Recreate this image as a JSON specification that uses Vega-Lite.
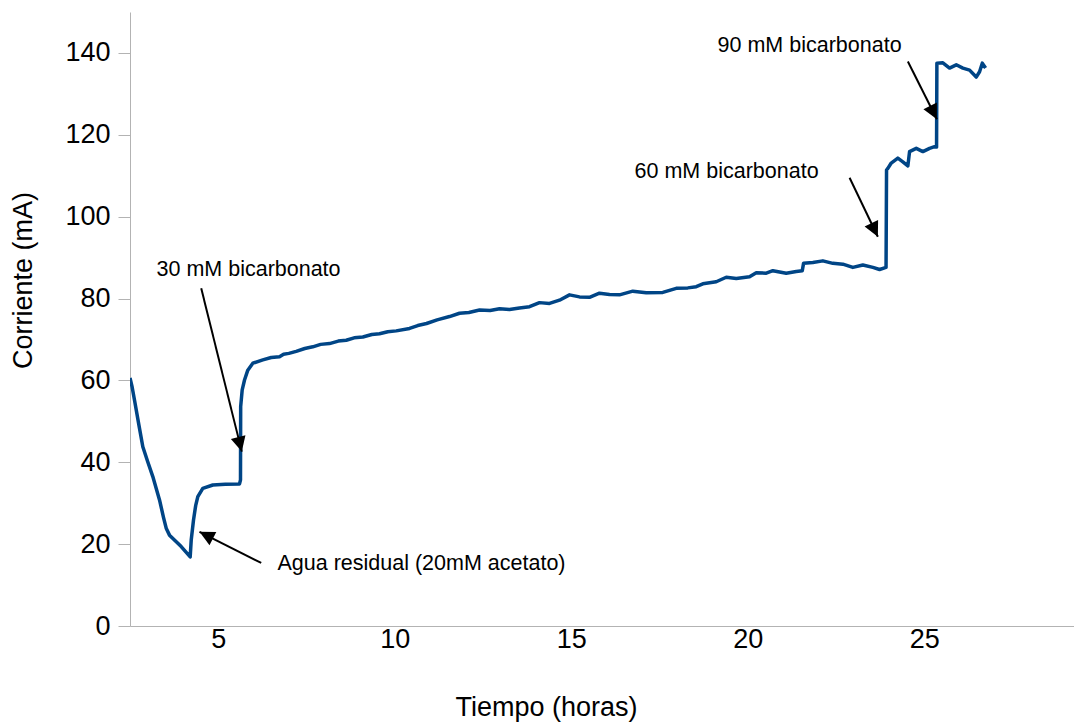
{
  "$schema": "https://vega.github.io/schema/vega-lite/v6.json",
  "autosize": {"type": "none"},
  "width": 944,
  "height": 614,
  "padding": {"left": 130, "top": 12, "right": 0, "bottom": 99},
  "config": {
    "view": {"stroke": null},
    "font": "Liberation Sans",
    "axis": {"grid": false, "domainColor": "#b3b3b3", "tickColor": "#b3b3b3", "labelColor": "#000000", "titleColor": "#000000", "labelFont": "Liberation Sans", "titleFont": "Liberation Sans", "titleFontWeight": "normal"}
  },
  "datasets": {
    "corriente": [
      {"t": 2.5, "mA": 60.6},
      {"t": 2.56, "mA": 58.4},
      {"t": 2.627, "mA": 55.2},
      {"t": 2.75, "mA": 49.2},
      {"t": 2.863, "mA": 43.8},
      {"t": 3.0, "mA": 40.2},
      {"t": 3.146, "mA": 36.5},
      {"t": 3.336, "mA": 30.8},
      {"t": 3.45, "mA": 26.5},
      {"t": 3.525, "mA": 23.9},
      {"t": 3.619, "mA": 22.2},
      {"t": 3.95, "mA": 19.4},
      {"t": 4.205, "mA": 16.9},
      {"t": 4.234, "mA": 21.0},
      {"t": 4.299, "mA": 25.9},
      {"t": 4.36, "mA": 29.4},
      {"t": 4.421, "mA": 31.6},
      {"t": 4.562, "mA": 33.6},
      {"t": 4.846, "mA": 34.45},
      {"t": 5.2, "mA": 34.6},
      {"t": 5.602, "mA": 34.7},
      {"t": 5.63, "mA": 35.7},
      {"t": 5.635, "mA": 53.6},
      {"t": 5.678, "mA": 57.7},
      {"t": 5.744, "mA": 60.1},
      {"t": 5.837, "mA": 62.5},
      {"t": 5.979, "mA": 64.2},
      {"t": 6.262, "mA": 65.0},
      {"t": 6.5, "mA": 65.6},
      {"t": 6.735, "mA": 65.8},
      {"t": 6.85, "mA": 66.4},
      {"t": 7.0, "mA": 66.6},
      {"t": 7.208, "mA": 67.1},
      {"t": 7.45, "mA": 67.8},
      {"t": 7.678, "mA": 68.2},
      {"t": 7.9, "mA": 68.8},
      {"t": 8.152, "mA": 69.0},
      {"t": 8.4, "mA": 69.6},
      {"t": 8.625, "mA": 69.8},
      {"t": 8.85, "mA": 70.4},
      {"t": 9.095, "mA": 70.6},
      {"t": 9.35, "mA": 71.2},
      {"t": 9.568, "mA": 71.4},
      {"t": 9.8, "mA": 71.9},
      {"t": 10.041, "mA": 72.1},
      {"t": 10.418, "mA": 72.7},
      {"t": 10.65, "mA": 73.4},
      {"t": 10.9, "mA": 73.9},
      {"t": 11.2, "mA": 74.8},
      {"t": 11.551, "mA": 75.6},
      {"t": 11.834, "mA": 76.4},
      {"t": 12.1, "mA": 76.6},
      {"t": 12.401, "mA": 77.2},
      {"t": 12.7, "mA": 77.1},
      {"t": 12.967, "mA": 77.5},
      {"t": 13.25, "mA": 77.3},
      {"t": 13.533, "mA": 77.7},
      {"t": 13.817, "mA": 78.0},
      {"t": 14.1, "mA": 79.0},
      {"t": 14.383, "mA": 78.8},
      {"t": 14.666, "mA": 79.6},
      {"t": 14.95, "mA": 80.9},
      {"t": 15.233, "mA": 80.4},
      {"t": 15.516, "mA": 80.3},
      {"t": 15.799, "mA": 81.3},
      {"t": 16.083, "mA": 81.0},
      {"t": 16.366, "mA": 80.9},
      {"t": 16.743, "mA": 81.8},
      {"t": 17.123, "mA": 81.4},
      {"t": 17.593, "mA": 81.5},
      {"t": 17.973, "mA": 82.5},
      {"t": 18.3, "mA": 82.6},
      {"t": 18.54, "mA": 82.9},
      {"t": 18.727, "mA": 83.6},
      {"t": 19.106, "mA": 84.1},
      {"t": 19.389, "mA": 85.2},
      {"t": 19.673, "mA": 84.9},
      {"t": 20.05, "mA": 85.3},
      {"t": 20.24, "mA": 86.3},
      {"t": 20.523, "mA": 86.2},
      {"t": 20.71, "mA": 86.8},
      {"t": 21.089, "mA": 86.2},
      {"t": 21.373, "mA": 86.6},
      {"t": 21.543, "mA": 86.8},
      {"t": 21.579, "mA": 88.6},
      {"t": 21.843, "mA": 88.8},
      {"t": 22.126, "mA": 89.2},
      {"t": 22.409, "mA": 88.6},
      {"t": 22.693, "mA": 88.4},
      {"t": 22.976, "mA": 87.6},
      {"t": 23.259, "mA": 88.2},
      {"t": 23.543, "mA": 87.6},
      {"t": 23.732, "mA": 87.1},
      {"t": 23.874, "mA": 87.5},
      {"t": 23.916, "mA": 87.6},
      {"t": 23.93, "mA": 111.4},
      {"t": 23.967, "mA": 111.8},
      {"t": 24.063, "mA": 113.1},
      {"t": 24.25, "mA": 114.3},
      {"t": 24.392, "mA": 113.4},
      {"t": 24.534, "mA": 112.4},
      {"t": 24.582, "mA": 115.9},
      {"t": 24.772, "mA": 116.7},
      {"t": 24.959, "mA": 115.9},
      {"t": 25.149, "mA": 116.7},
      {"t": 25.29, "mA": 117.1},
      {"t": 25.347, "mA": 117.0},
      {"t": 25.356, "mA": 137.5},
      {"t": 25.526, "mA": 137.6},
      {"t": 25.715, "mA": 136.3},
      {"t": 25.905, "mA": 137.1},
      {"t": 26.092, "mA": 136.3},
      {"t": 26.282, "mA": 135.8},
      {"t": 26.471, "mA": 134.1},
      {"t": 26.565, "mA": 135.4},
      {"t": 26.642, "mA": 137.5},
      {"t": 26.735, "mA": 136.3}
    ],
    "notas": [
      {"texto": "Agua residual (20mM acetato)", "tx": 6.678, "ty": 13.7, "x1": 6.217, "y1": 15.4, "x2": 4.469, "y2": 23.0, "rumbo": 296.9},
      {"texto": "30 mM bicarbonato", "tx": 3.251, "ty": 85.5, "x1": 4.517, "y1": 82.5, "x2": 5.667, "y2": 42.6, "rumbo": 166.0},
      {"texto": "60 mM bicarbonato", "tx": 16.792, "ty": 109.5, "x1": 22.883, "y1": 109.5, "x2": 23.684, "y2": 95.1, "rumbo": 154.3},
      {"texto": "90 mM bicarbonato", "tx": 19.143, "ty": 140.2, "x1": 24.534, "y1": 137.9, "x2": 25.356, "y2": 123.8, "rumbo": 153.3}
    ]
  },
  "layer": [
    {
      "mark": {"type": "rule", "color": "#b3b3b3", "strokeWidth": 1},
      "encoding": {"y": {"datum": 150, "type": "quantitative"}}
    },
    {
      "data": {"name": "corriente"},
      "mark": {"type": "line", "color": "#004586", "strokeWidth": 3.5, "strokeJoin": "round", "clip": true},
      "encoding": {
        "x": {
          "field": "t", "type": "quantitative",
          "scale": {"domain": [2.5, 29.24], "nice": false, "zero": false},
          "axis": {"values": [5, 10, 15, 20, 25], "ticks": false, "labelFontSize": 27, "labelPadding": 0, "title": "Tiempo (horas)", "titleFontSize": 27, "titleX": 416, "titleY": 81, "titleBaseline": "middle", "titleAnchor": "middle"}
        },
        "y": {
          "field": "mA", "type": "quantitative",
          "scale": {"domain": [0, 150], "nice": false},
          "axis": {"values": [0, 20, 40, 60, 80, 100, 120, 140], "tickSize": 12, "labelFontSize": 27, "labelPadding": 8, "title": "Corriente (mA)", "titleFontSize": 27, "titleX": -107, "titleY": 268, "titleBaseline": "middle", "titleAnchor": "middle", "titleAngle": -90}
        }
      }
    },
    {
      "data": {"name": "notas"},
      "mark": {"type": "rule", "color": "#000000", "strokeWidth": 2},
      "encoding": {
        "x": {"field": "x1", "type": "quantitative"},
        "y": {"field": "y1", "type": "quantitative"},
        "x2": {"field": "x2"},
        "y2": {"field": "y2"}
      }
    },
    {
      "data": {"name": "notas"},
      "mark": {"type": "point", "shape": "M0,0 L0.5,1 L-0.5,1 Z", "filled": true, "color": "#000000", "opacity": 1, "size": 900, "strokeWidth": 0},
      "encoding": {
        "x": {"field": "x2", "type": "quantitative"},
        "y": {"field": "y2", "type": "quantitative"},
        "angle": {"field": "rumbo", "type": "quantitative", "scale": null}
      }
    },
    {
      "data": {"name": "notas"},
      "mark": {"type": "text", "align": "left", "baseline": "alphabetic", "fontSize": 21.5, "color": "#000000", "font": "Liberation Sans"},
      "encoding": {
        "x": {"field": "tx", "type": "quantitative"},
        "y": {"field": "ty", "type": "quantitative"},
        "text": {"field": "texto"}
      }
    }
  ]
}
